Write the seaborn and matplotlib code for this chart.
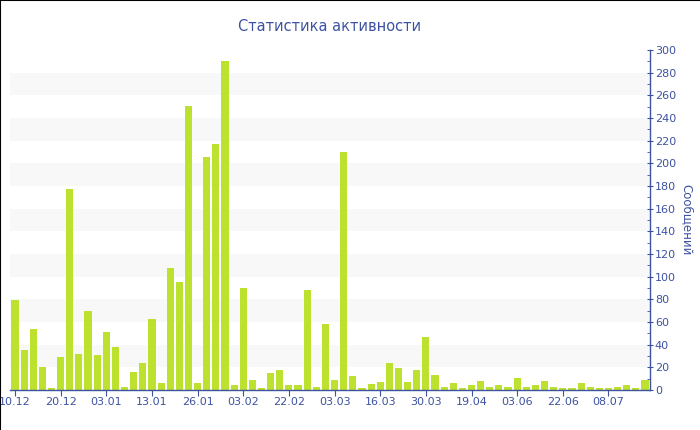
import matplotlib
matplotlib.use("Agg")
import matplotlib.pyplot as plt
import seaborn as sns
import pandas as pd
from matplotlib.lines import Line2D
from matplotlib.ticker import MultipleLocator

# --- data (one bar per active day) ---
counts = [
    79, 35, 54, 20, 2, 29, 177, 32, 70, 31,
    51, 38, 3, 16, 24, 63, 6, 108, 95, 251,
    6, 206, 217, 290, 4, 90, 9, 2, 15, 18,
    4, 4, 88, 3, 58, 9, 210, 12, 2, 5,
    7, 24, 19, 7, 18, 47, 13, 3, 6, 2,
    4, 8, 3, 4, 3, 11, 3, 4, 8, 3,
    2, 2, 6, 3, 2, 2, 3, 4, 2, 9,
]
tick_labels = ['10.12', '20.12', '03.01', '13.01', '26.01', '03.02', '22.02',
               '03.03', '16.03', '30.03', '19.04', '03.06', '22.06', '08.07']
TICK_STEP = 5

BLUE = '#3d52a1'
GREEN = '#bce22f'

df = pd.DataFrame({'pos': range(len(counts)), 'count': counts})

sns.set_style('white')
fig = plt.figure(figsize=(7, 4.3), dpi=100)
ax = fig.add_axes([10 / 700, 40 / 430, 640 / 700, 340 / 430])

# alternating horizontal bands
for lo in range(20, 300, 40):
    ax.axhspan(lo, lo + 20, color='#f8f8f8', zorder=0, lw=0)

sns.barplot(data=df, x='pos', y='count', color=GREEN, width=0.78,
            saturation=1, linewidth=0, edgecolor='none', ax=ax, zorder=2)

ax.set_xlim(-0.55, len(counts) - 0.45)
ax.set_ylim(0, 300)
ax.set_xticks(range(0, len(counts), TICK_STEP))
ax.set_xticklabels(tick_labels)

ax.yaxis.tick_right()
ax.yaxis.set_label_position('right')
ax.yaxis.set_major_locator(MultipleLocator(20))
ax.yaxis.set_minor_locator(MultipleLocator(10))
ax.set_xlabel('')
ax.set_ylabel('Сообщений', color=BLUE, fontsize=8.5, rotation=270, labelpad=12)

for side in ['left', 'top']:
    ax.spines[side].set_visible(False)
for side in ['right', 'bottom']:
    ax.spines[side].set_color(BLUE)
    ax.spines[side].set_linewidth(1)

ax.tick_params(axis='y', which='major', direction='inout', length=5, color=BLUE,
               labelcolor=BLUE, labelsize=8, pad=1, right=True, left=False)
ax.tick_params(axis='y', which='minor', direction='in', length=2, color=BLUE,
               right=True, left=False)
ax.tick_params(axis='x', direction='out', length=4, color=BLUE,
               labelcolor=BLUE, labelsize=8, pad=1, bottom=True)

ax.set_title('Статистика активности', color=BLUE, fontsize=10.5, pad=14)

# thin black frame on left and top edges of the image
fig.add_artist(Line2D([0.0007, 0.0007], [0, 1], color='black', lw=1.5, transform=fig.transFigure))
fig.add_artist(Line2D([0, 1], [0.9989, 0.9989], color='black', lw=1.5, transform=fig.transFigure))

fig.savefig('out.png', dpi=100)
